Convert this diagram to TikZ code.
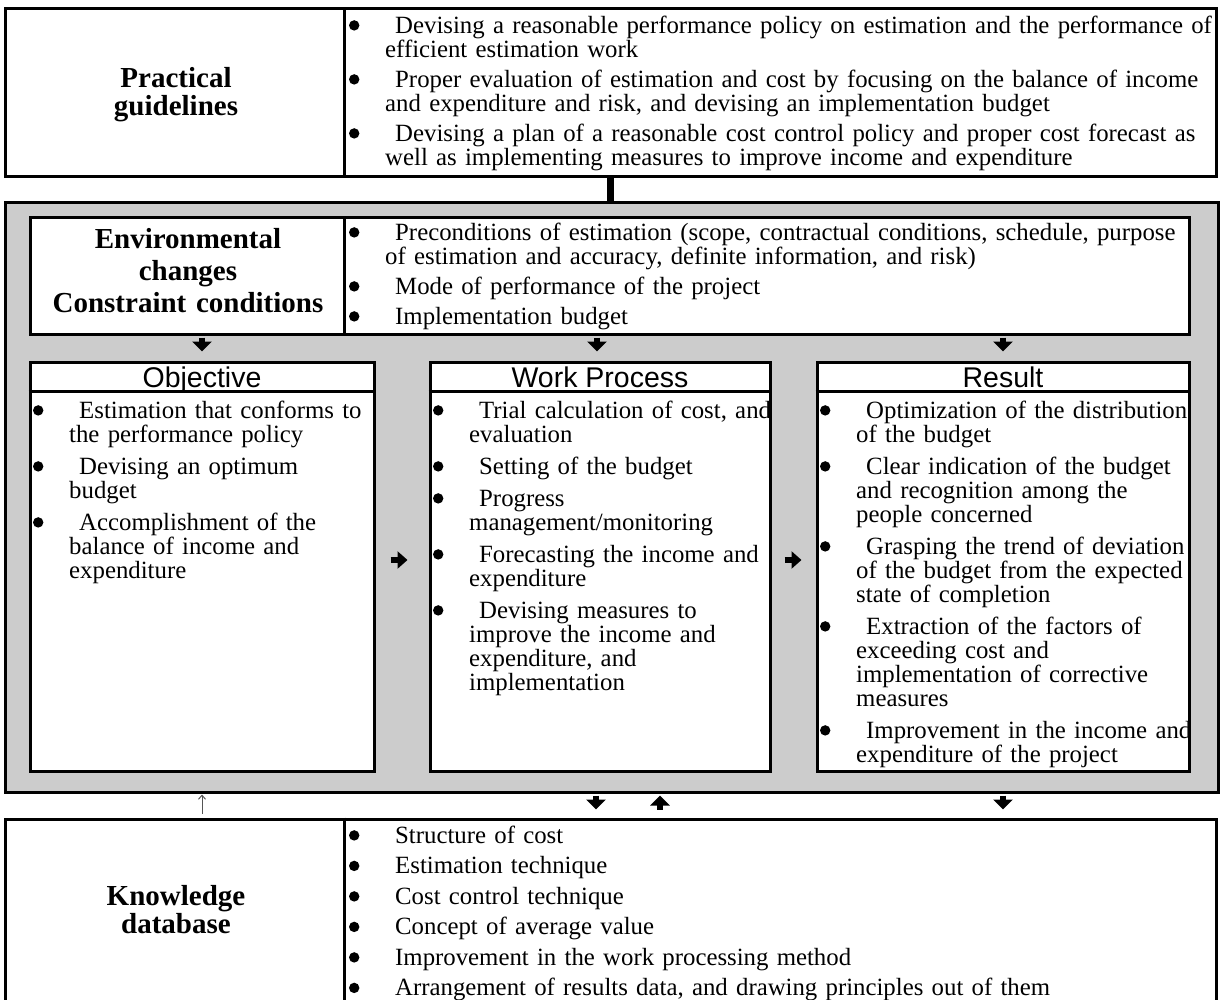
\documentclass[tikz,border=0pt]{standalone}
\usepackage{fontspec}
\setmainfont{Liberation Serif}
\newfontfamily\hsans{Liberation Sans}
\usetikzlibrary{arrows.meta}
\definecolor{framegray}{HTML}{CCCCCC}
\definecolor{thingray}{HTML}{555555}
\newcommand\bodyfont{\fontsize{24.8}{24}\selectfont\lineskiplimit=-100pt\relax}
\newcommand\bdot{\raisebox{2.6pt}{\tikz\fill (0,0) circle (5.2pt);}}
\newcommand\bl{\leavevmode\llap{\makebox[0pt][c]{\bdot}\hspace{31pt}}\hspace*{10pt}}
\newcommand\st{\rule{0pt}{20pt}}
\newcommand\hst{\rule{0pt}{21pt}}
\begin{document}
\begin{tikzpicture}[x=1pt,y=-1pt,
  box/.style={draw, line width=3pt, fill=white, inner sep=0pt},
  divline/.style={line width=2.5pt},
  txt/.style={anchor=north west, inner sep=0pt, text width=1000pt, align=left, font=\bodyfont},
  hd/.style={anchor=north, inner sep=0pt, text width=330pt, align=center},
  colhd/.style={anchor=base, inner sep=0pt, font=\hsans\fontsize{28.5}{28}\selectfont},
  darr/.style={line width=5.5pt, -{Triangle[width=19pt,length=10pt]}},
  rarr/.style={line width=5.5pt, -{Triangle[width=17pt,length=10pt]}},
  thinarr/.style={draw=thingray, line width=1pt, -{Straight Barb[length=4pt,width=7pt]}}
]
\useasboundingbox (0,0) rectangle (1223,1000);

% gray frame
\node[draw, line width=3pt, fill=framegray, inner sep=0pt,
      minimum width=1213pt, minimum height=589pt] (frame) at (611.5,497.5) {};

% boxes
\node[box, minimum width=1211pt, minimum height=168pt] (top) at (610.5,93) {};
\node[box, minimum width=1159pt, minimum height=116pt] (env) at (609.5,276) {};
\node[box, minimum width=344pt, minimum height=409pt] (obj) at (202,566.5) {};
\node[box, minimum width=340pt, minimum height=409pt] (wp) at (600,566.5) {};
\node[box, minimum width=372pt, minimum height=409pt] (res) at (1003,566.5) {};
\node[box, minimum width=1211pt, minimum height=201pt] (kb) at (610.5,919.5) {};

% dividers
\draw[divline] ([xshift=341pt]top.north west) -- ([xshift=341pt]top.south west);
\draw[divline] ([xshift=316pt]env.north west) -- ([xshift=316pt]env.south west);
\draw[divline] ([xshift=341pt]kb.north west) -- ([xshift=341pt]kb.south west);
\draw[divline] ([yshift=-31pt]obj.north west) -- ([yshift=-31pt]obj.north east);
\draw[divline] ([yshift=-31pt]wp.north west) -- ([yshift=-31pt]wp.north east);
\draw[divline] ([yshift=-31pt]res.north west) -- ([yshift=-31pt]res.north east);

% headings
\node[hd, font=\fontsize{29}{28}\selectfont\bfseries] (pgh) at (176,66) {\hst Practical\\guidelines};
\node[hd, font=\fontsize{29}{32}\selectfont\bfseries] (envh) at (188,227) {\hst Environmental\\changes\\Constraint conditions};
\node[hd, font=\fontsize{29}{28}\selectfont\bfseries] (kbh) at (176,884) {\hst Knowledge\\database};
\node[colhd] (objh) at (202,387) {Objective};
\node[colhd] (wph) at (600,387) {Work Process};
\node[colhd] (resh) at (1003,387) {Result};

% texts
\begin{scope}
\clip (347.5,10.5) rectangle (1214.5,175.5);
\node[txt] (toptxt) at (385,13) {\bl\st Devising a reasonable performance policy on estimation and the performance of\\
efficient estimation work\\[6pt]
\bl Proper evaluation of estimation and cost by focusing on the balance of income\\
and expenditure and risk, and devising an implementation budget\\[6pt]
\bl Devising a plan of a reasonable cost control policy and proper cost forecast as\\
well as implementing measures to improve income and expenditure};
\end{scope}

\begin{scope}
\clip (347.5,219.5) rectangle (1187.5,332.5);
\node[txt] (envtxt) at (385,220) {\bl\st Preconditions of estimation (scope, contractual conditions, schedule, purpose\\
of estimation and accuracy, definite information, and risk)\\[6pt]
\bl Mode of performance of the project\\[6pt]
\bl Implementation budget};
\end{scope}

\begin{scope}
\clip (31.5,394.5) rectangle (372.5,769.5);
\node[txt] (objtxt) at (69,398) {\bl\st Estimation that conforms to\\
the performance policy\\[8pt]
\bl Devising an optimum\\
budget\\[8pt]
\bl Accomplishment of the\\
balance of income and\\
expenditure};
\end{scope}

\begin{scope}
\clip (431.5,394.5) rectangle (768.5,769.5);
\node[txt] (wptxt) at (469,398) {\bl\st Trial calculation of cost, and\\
evaluation\\[8pt]
\bl Setting of the budget\\[8pt]
\bl Progress\\
management/monitoring\\[8pt]
\bl Forecasting the income and\\
expenditure\\[8pt]
\bl Devising measures to\\
improve the income and\\
expenditure, and\\
implementation};
\end{scope}

\begin{scope}
\clip (818.5,394.5) rectangle (1187.5,769.5);
\node[txt] (restxt) at (856,398) {\bl\st Optimization of the distribution\\
of the budget\\[8pt]
\bl Clear indication of the budget\\
and recognition among the\\
people concerned\\[8pt]
\bl Grasping the trend of deviation\\
of the budget from the expected\\
state of completion\\[8pt]
\bl Extraction of the factors of\\
exceeding cost and\\
implementation of corrective\\
measures\\[8pt]
\bl Improvement in the income and\\
expenditure of the project};
\end{scope}

\begin{scope}
\clip (347.5,820.5) rectangle (1214.5,1000);
\node[txt] (kbtxt) at (385,823) {\bl\st Structure of cost\\[6.5pt]
\bl Estimation technique\\[6.5pt]
\bl Cost control technique\\[6.5pt]
\bl Concept of average value\\[6.5pt]
\bl Improvement in the work processing method\\[6.5pt]
\bl Arrangement of results data, and drawing principles out of them};
\end{scope}

% connectors
\draw[line width=7pt] (top.south) -- (top.south |- frame.north);
\draw[darr, shorten <=2pt, shorten >=9pt] (obj.north |- env.south) -- (obj.north);
\draw[darr, shorten <=2pt, shorten >=9pt] ([xshift=-3pt]wp.north |- env.south) -- ([xshift=-3pt]wp.north);
\draw[darr, shorten <=2pt, shorten >=9pt] (res.north |- env.south) -- (res.north);
\draw[rarr, shorten <=15pt, shorten >=21pt] ([yshift=6.5pt]obj.east) -- ([yshift=6.5pt]wp.west);
\draw[rarr, shorten <=13pt, shorten >=14pt] ([yshift=6.5pt]wp.east) -- ([yshift=6.5pt]res.west);

\coordinate (xd) at (596,0);
\coordinate (xu) at (660,0);
\draw[darr, shorten <=2pt, shorten >=8pt] (frame.south -| xd) -- (kb.north -| xd);
\draw[darr, shorten <=8pt, shorten >=2pt] (kb.north -| xu) -- (frame.south -| xu);
\draw[darr, shorten <=2pt, shorten >=8pt] (frame.south -| res.south) -- (kb.north -| res.south);
\draw[thinarr, shorten <=4pt, shorten >=1pt] (kb.north -| obj.south) -- (frame.south -| obj.south);
\end{tikzpicture}
\end{document}
